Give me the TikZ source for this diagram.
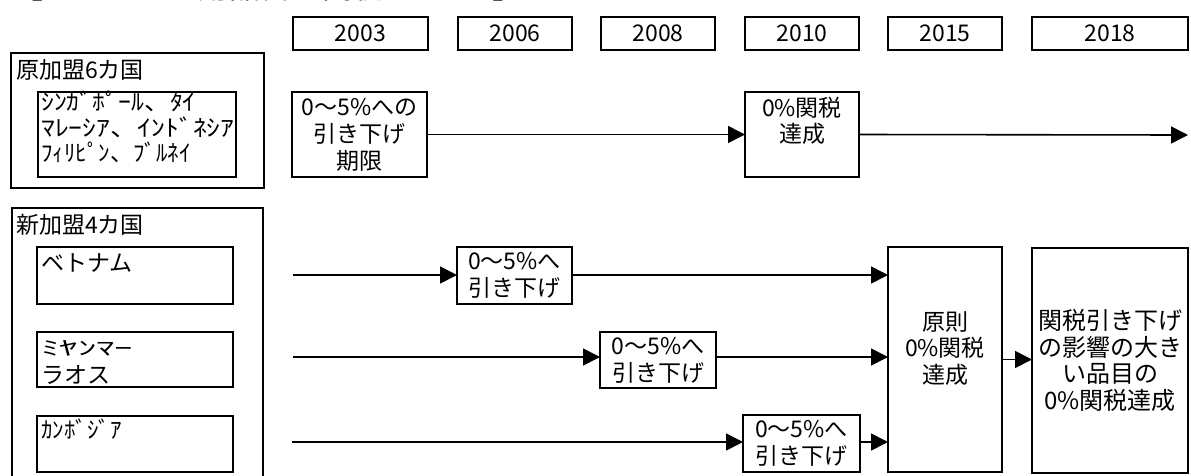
\documentclass[tikz,border=0pt]{standalone}
\usepackage{fontspec}
\newfontfamily\jp{Noto Sans CJK JP}
\usetikzlibrary{arrows.meta}
\newcommand{\hw}[1]{\scalebox{1.12}[1]{#1}}
\begin{document}
\begin{tikzpicture}[x=1pt,y=-1pt,
  box/.style={draw, line width=2.6pt, inner sep=0pt, outer sep=0pt, align=center,
    font=\jp\fontsize{23}{27}\selectfont},
  txt/.style={font=\jp\fontsize{23}{26.5}\selectfont, inner sep=0pt, align=center},
  ltxt/.style={font=\jp\fontsize{23}{25.5}\selectfont, inner sep=0pt, align=left},
  conn/.style={line width=1.6pt, -{Triangle[length=17pt,width=17pt]}}]
\useasboundingbox (0,0) rectangle (1191,475);
% title, cut off at the top edge as in the reference
\begin{scope}
\clip (0,0) rectangle (1191,475);
\node[font=\jp\fontsize{31}{33}\selectfont, inner sep=0pt, anchor=base west] (ttl) at (12,-1.5) {【ＣＥＰＴ適用品目の関税ｽｹｼﾞｭｰﾙ】};
\end{scope}
% year header
\node[box, minimum width=135, minimum height=33] (y2003) at (360.5,33.5) {2003};
\node[box, minimum width=114, minimum height=33] (y2006) at (515,33.5) {2006};
\node[box, minimum width=114, minimum height=33] (y2008) at (658,33.5) {2008};
\node[box, minimum width=114, minimum height=33] (y2010) at (802,33.5) {2010};
\node[box, minimum width=114, minimum height=33] (y2015) at (945,33.5) {2015};
\node[box, minimum width=156, minimum height=33] (y2018) at (1110,33.5) {2018};
% original members
\node[box, minimum width=253, minimum height=135] (orig) at (137.5,120.5) {};
\node[txt, anchor=west] (origlbl) at (16,70) {原加盟6カ国};
\node[box, minimum width=198, minimum height=85] (origin) at (137,134.5) {};
\node[ltxt, anchor=north west] (origtxt) at (41,91) {\hw{ｼﾝｶﾞﾎﾟｰﾙ、ﾀｲ}\\\scalebox{1.2}[1]{ﾏﾚｰｼｱ、ｲﾝﾄﾞﾈｼｱ}\\ﾌｨﾘﾋﾟﾝ、ﾌﾞﾙﾈｲ};
\node[box, minimum width=135, minimum height=85] (o2003) at (359.5,134.5) {0～5\%への\\引き下げ\\期限};
\node[box, minimum width=114, minimum height=85] (o2010) at (802,134.5) {};
\node[txt] (o2010txt) at (802,121) {0\%関税\\達成};
\coordinate (oend) at (1188,135);
\draw[conn] (o2003.east) -- (o2010.west);
\draw[conn] (o2010.east) -- (oend);
% new members
\node[box, minimum width=251, minimum height=290] (newm) at (137.5,353) {};
\node[txt, anchor=west] (newlbl) at (16,225) {新加盟4カ国};
\node[box, minimum width=196, minimum height=57] (vn) at (135,275.5) {};
\node[txt, anchor=west] (vntxt) at (41,263) {ベトナム};
\node[box, minimum width=196, minimum height=55] (ml) at (135,359.5) {};
\node[txt, anchor=west] (mltxt1) at (41,348) {\scalebox{1.6}[0.85]{ﾐﾔﾝﾏｰ}};
\node[txt, anchor=west] (mltxt2) at (41,375) {ラオス};
\node[box, minimum width=196, minimum height=56] (kh) at (135,444) {};
\node[txt, anchor=west] (khtxt) at (41,429) {ｶﾝﾎﾞｼﾞｱ};
\node[box, minimum width=115, minimum height=57] (r1) at (514.5,275.5) {0～5\%へ\\引き下げ};
\node[box, minimum width=116, minimum height=56] (r2) at (658,360) {0～5\%へ\\引き下げ};
\node[box, minimum width=117, minimum height=57] (r3) at (801.5,443.5) {0～5\%へ\\引き下げ};
\node[box, minimum width=114, minimum height=225] (p) at (945,359.5) {};
\node[txt] (ptxt) at (945,348.5) {原則\\0\%関税\\達成};
\node[box, minimum width=156, minimum height=225, font=\jp\fontsize{24}{26.5}\selectfont] (f) at (1110,360.5) {関税引き下げ\\の影響の大き\\い品目の\\0\%関税達成};
\coordinate (s1) at (293,275);
\coordinate (s2) at (293,357);
\coordinate (s3) at (292,442);
\draw[conn] (s1) -- (s1 -| r1.west);
\draw[conn] (s1 -| r1.east) -- (s1 -| p.west);
\draw[conn] (s2) -- (s2 -| r2.west);
\draw[conn] (s2 -| r2.east) -- (s2 -| p.west);
\draw[conn] (s3) -- (s3 -| r3.west);
\draw[conn] (s3 -| r3.east) -- (s3 -| p.west);
\draw[conn] (p.east) -- (p.east -| f.west);
\end{tikzpicture}
\end{document}
